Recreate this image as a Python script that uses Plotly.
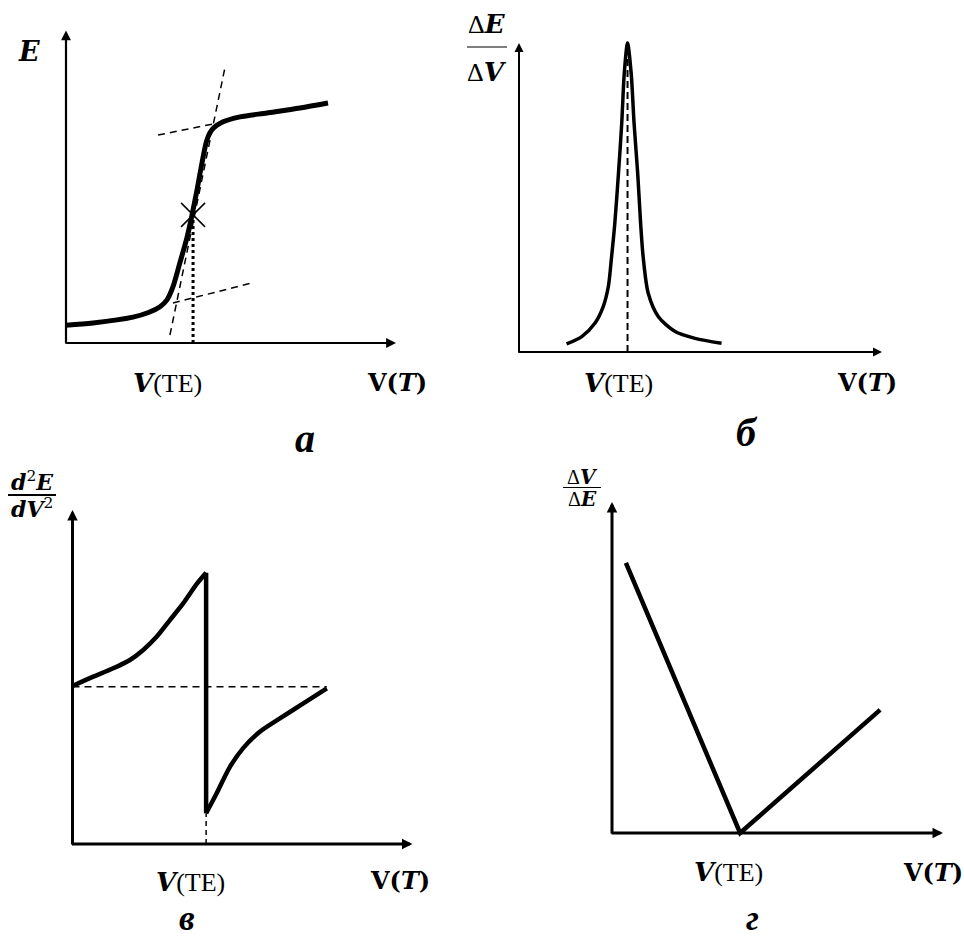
import plotly.graph_objects as go

W, H = 964, 939

# ---------------- data (arbitrary units, axes 0..10) ----------------
# Panel a: integral titration curve E = f(V)
a_x = [0.00, 0.82, 2.03, 2.50, 2.85, 3.06, 3.24, 3.45, 3.67, 3.82, 3.97, 4.12, 4.27, 4.42, 4.76, 5.27, 6.09, 7.09, 7.94]
a_y = [0.58, 0.65, 0.84, 0.99, 1.18, 1.40, 1.82, 2.60, 3.44, 4.16, 4.97, 5.84, 6.59, 6.92, 7.18, 7.34, 7.47, 7.63, 7.79]
a_tan_top_x = [2.79, 4.45]
a_tan_top_y = [6.75, 7.11]
a_tan_mid_x = [3.15, 4.82]
a_tan_mid_y = [0.26, 8.96]
a_tan_bot_x = [3.24, 5.64]
a_tan_bot_y = [1.30, 1.95]
a_te_x = 3.85
a_te_y = 4.16

# Panel б: first derivative dE/dV
b_x = [1.31, 1.73, 2.09, 2.32, 2.46, 2.55, 2.64, 2.74, 2.83, 2.90, 2.99,
       3.09, 3.17, 3.27, 3.35, 3.42, 3.56, 3.84, 4.30, 4.85, 5.58]
b_y = [0.26, 0.50, 0.93, 1.47, 2.11, 3.08, 4.17, 5.78, 7.40, 9.02, 10.0,
       9.02, 7.40, 5.78, 4.17, 3.08, 1.90, 1.14, 0.66, 0.44, 0.28]
b_te_x = 2.99

# Panel в: second derivative
c_left_x = [0.00, 0.61, 1.20, 1.69, 2.08, 2.48, 2.87, 3.26, 3.65, 3.93]
c_left_y = [4.73, 5.01, 5.26, 5.51, 5.81, 6.21, 6.71, 7.21, 7.78, 8.12]
c_right_x = [3.93, 4.24, 4.63, 5.02, 5.51, 6.10, 6.79, 7.48]
c_right_y = [0.92, 1.52, 2.31, 2.87, 3.36, 3.76, 4.21, 4.66]
c_zero_y = 4.71

# Panel г: Gran plot dV/dE
d_x = [0.42, 3.87, 8.10]
d_y = [8.16, 0.00, 3.72]

# ---------------- layout helpers ----------------
panels = {
    "a": dict(ox=66, oy=343, sx=33.0, sy=30.8),
    "b": dict(ox=519, oy=352, sx=36.3, sy=30.9),
    "c": dict(ox=72.5, oy=844, sx=34.0, sy=33.4),
    "d": dict(ox=612, oy=833, sx=33.1, sy=33.1),
}
LO, HI = -0.8, 10.5

fig = go.Figure()
axis_ids = {"a": ("x", "y"), "b": ("x2", "y2"), "c": ("x3", "y3"), "d": ("x4", "y4")}
layout_axes = {}
for i, (k, p) in enumerate(panels.items()):
    x0 = p["ox"] + LO * p["sx"]
    x1 = p["ox"] + HI * p["sx"]
    yb = p["oy"] - LO * p["sy"]
    yt = p["oy"] - HI * p["sy"]
    n = "" if i == 0 else str(i + 1)
    layout_axes["xaxis" + n] = dict(domain=[x0 / W, x1 / W], range=[LO, HI], visible=False,
                                    anchor="y" + n, fixedrange=True)
    layout_axes["yaxis" + n] = dict(domain=[1 - yb / H, 1 - yt / H], range=[LO, HI], visible=False,
                                    anchor="x" + n, fixedrange=True)

BLACK = "black"

def line(xs, ys, ax, width, dash="solid", shape="linear", smooth=None):
    xa, ya = axis_ids[ax]
    ln = dict(color=BLACK, width=width, dash=dash, shape=shape)
    if smooth is not None:
        ln["smoothing"] = smooth
    fig.add_trace(go.Scatter(x=xs, y=ys, mode="lines", line=ln, xaxis=xa, yaxis=ya,
                             hoverinfo="skip", showlegend=False))

# Panel a
line(a_tan_top_x, a_tan_top_y, "a", 1.5, dash="7px,5px")
line(a_tan_mid_x, a_tan_mid_y, "a", 1.5, dash="7px,5px")
line(a_tan_bot_x, a_tan_bot_y, "a", 1.5, dash="7px,5px")
line([a_te_x, a_te_x], [0, a_te_y], "a", 3, dash="3px,3px")
line(a_x, a_y, "a", 5, shape="spline", smooth=0.8)
fig.add_trace(go.Scatter(x=[a_te_x], y=[a_te_y], mode="markers",
                         marker=dict(symbol="x-thin", size=24, line=dict(color=BLACK, width=1.5)),
                         xaxis="x", yaxis="y", hoverinfo="skip", showlegend=False))

# Panel б
line([b_te_x, b_te_x], [0, 10.0], "b", 2, dash="7px,4px")
line(b_x, b_y, "b", 3.5, shape="spline", smooth=0.8)

# Panel в
line([0, c_right_x[-1]], [c_zero_y, c_zero_y], "c", 1.5, dash="7px,5px")
line([c_right_x[0], c_right_x[0]], [0, c_right_y[0]], "c", 1.5, dash="5px,4px")
line(c_left_x, c_left_y, "c", 4.5, shape="spline", smooth=0.8)
line([c_left_x[-1], c_right_x[0]], [c_left_y[-1], c_right_y[0]], "c", 4.5)
line(c_right_x, c_right_y, "c", 4.5, shape="spline", smooth=0.8)

# Panel г
line(d_x, d_y, "d", 4.5)

# ---------------- axes with arrows ----------------
annotations = []
def arrow(ax, x, y, tx, ty, width, size):
    xa, ya = axis_ids[ax]
    annotations.append(dict(x=x, y=y, ax=tx, ay=ty, xref=xa, yref=ya, axref=xa, ayref=ya,
                            text="", showarrow=True, arrowhead=2, arrowsize=size,
                            arrowwidth=width, arrowcolor=BLACK, standoff=0, startstandoff=0))

ax_len = {
    "a": (10.0, 10.15, 2.2, 0.9),
    "b": (10.0, 10.0, 2.0, 0.9),
    "c": (10.0, 10.0, 3.0, 0.7),
    "d": (10.0, 10.0, 3.0, 0.7),
}
for k, (xl, yl, w, s) in ax_len.items():
    arrow(k, xl, 0, -0.06, 0, w, s)
    arrow(k, 0, yl, 0, -0.06, w, s)

# ---------------- text ----------------
SERIF = "Liberation Serif"
HEAVY = "DejaVu Serif"

def txt(x, y, text, size, family=SERIF):
    annotations.append(dict(x=x / W, y=1 - y / H, xref="paper", yref="paper", text=text,
                            showarrow=False, font=dict(family=family, size=size, color=BLACK),
                            xanchor="center", yanchor="middle"))

def heavy(s):
    return "<span style='font-family:DejaVu Serif'><b><i>" + s + "</i></b></span>"

def vte():
    return heavy("V") + "(TE)"

def vt():
    return "<b>V(<i>T</i>)</b>"

# panel a
txt(29, 52, "<b><i>E</i></b>", 27, HEAVY)
txt(167, 383, vte(), 26)
txt(397, 383, vt(), 24, HEAVY)
txt(305, 438, "<b><i>a</i></b>", 40)

# panel б
txt(487, 24, "Δ" + heavy("E"), 26)
txt(487, 72, "Δ" + heavy("V"), 26)
txt(618, 383, vte(), 26)
txt(867, 383, vt(), 24, HEAVY)
txt(747, 432, "<b><i>б</i></b>", 40)

# panel в
txt(32, 481, "<b><i>d</i></b><sup>2</sup><b><i>E</i></b>", 22, HEAVY)
txt(32, 508, "<b><i>dV</i></b><sup>2</sup>", 22, HEAVY)
txt(190, 882, vte(), 26)
txt(400, 880, vt(), 24, HEAVY)
txt(187, 918, "<b><i>в</i></b>", 35)

# panel г
txt(582, 477, "Δ" + heavy("V"), 20)
txt(582, 499, "Δ" + heavy("E"), 20)
txt(728, 872, vte(), 26)
txt(933, 872, vt(), 24, HEAVY)
txt(752, 918, "<b><i>г</i></b>", 35)

shapes = [
    dict(type="line", xref="paper", yref="paper", x0=467 / W, x1=507 / W, y0=1 - 47 / H, y1=1 - 47 / H,
         line=dict(color=BLACK, width=1.2)),
    dict(type="line", xref="paper", yref="paper", x0=8 / W, x1=56 / W, y0=1 - 495 / H, y1=1 - 495 / H,
         line=dict(color=BLACK, width=2)),
    dict(type="line", xref="paper", yref="paper", x0=563 / W, x1=601 / W, y0=1 - 487.5 / H, y1=1 - 487.5 / H,
         line=dict(color=BLACK, width=1.2)),
]

fig.update_layout(
    width=W, height=H, autosize=False,
    margin=dict(l=0, r=0, t=0, b=0),
    paper_bgcolor="white", plot_bgcolor="rgba(0,0,0,0)",
    showlegend=False,
    annotations=annotations,
    shapes=shapes,
    **layout_axes,
)

fig.write_html("out.html", config={"displayModeBar": False},
               post_script="document.body.style.margin='0';document.body.style.overflow='hidden';")
